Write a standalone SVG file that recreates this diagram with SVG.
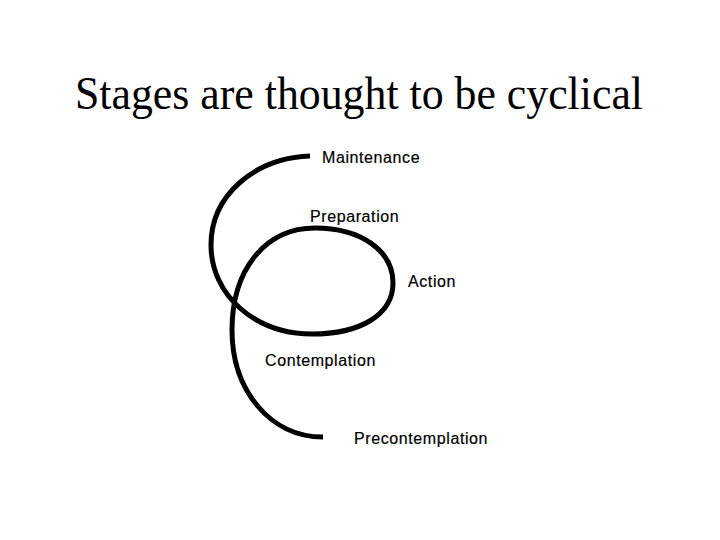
<svg xmlns="http://www.w3.org/2000/svg" width="720" height="540" viewBox="0 0 720 540">
<style>
.t{font-family:"Liberation Serif","Times New Roman",serif;font-size:46px;fill:#000}
.l{font-family:"Liberation Sans",Arial,sans-serif;font-size:16px;letter-spacing:0.6px;fill:#000;stroke:#000;stroke-width:0.2}
.c{fill:none;stroke:#000;stroke-width:5;stroke-linecap:butt}
</style>
<rect width="720" height="540" fill="#fff"/>
<text class="t" x="75" y="109" textLength="568" lengthAdjust="spacingAndGlyphs">Stages are thought to be cyclical</text>
<g id="connectors">
<path class="c" d="M310,156 C255,158 211,195 211,245 C211,295 255,334 312,334 C360,334 393,315 393,283 C393,250 360,228 315,228 C265,228 232,270 232,330 C232,390 270,437 323,437"/>
</g>
<g id="maintenance"><text class="l" x="322" y="163">Maintenance</text></g>
<g id="preparation"><text class="l" x="310" y="222">Preparation</text></g>
<g id="action"><text class="l" x="408" y="287">Action</text></g>
<g id="contemplation"><text class="l" x="265" y="366">Contemplation</text></g>
<g id="precontemplation"><text class="l" x="354" y="444">Precontemplation</text></g>
</svg>
